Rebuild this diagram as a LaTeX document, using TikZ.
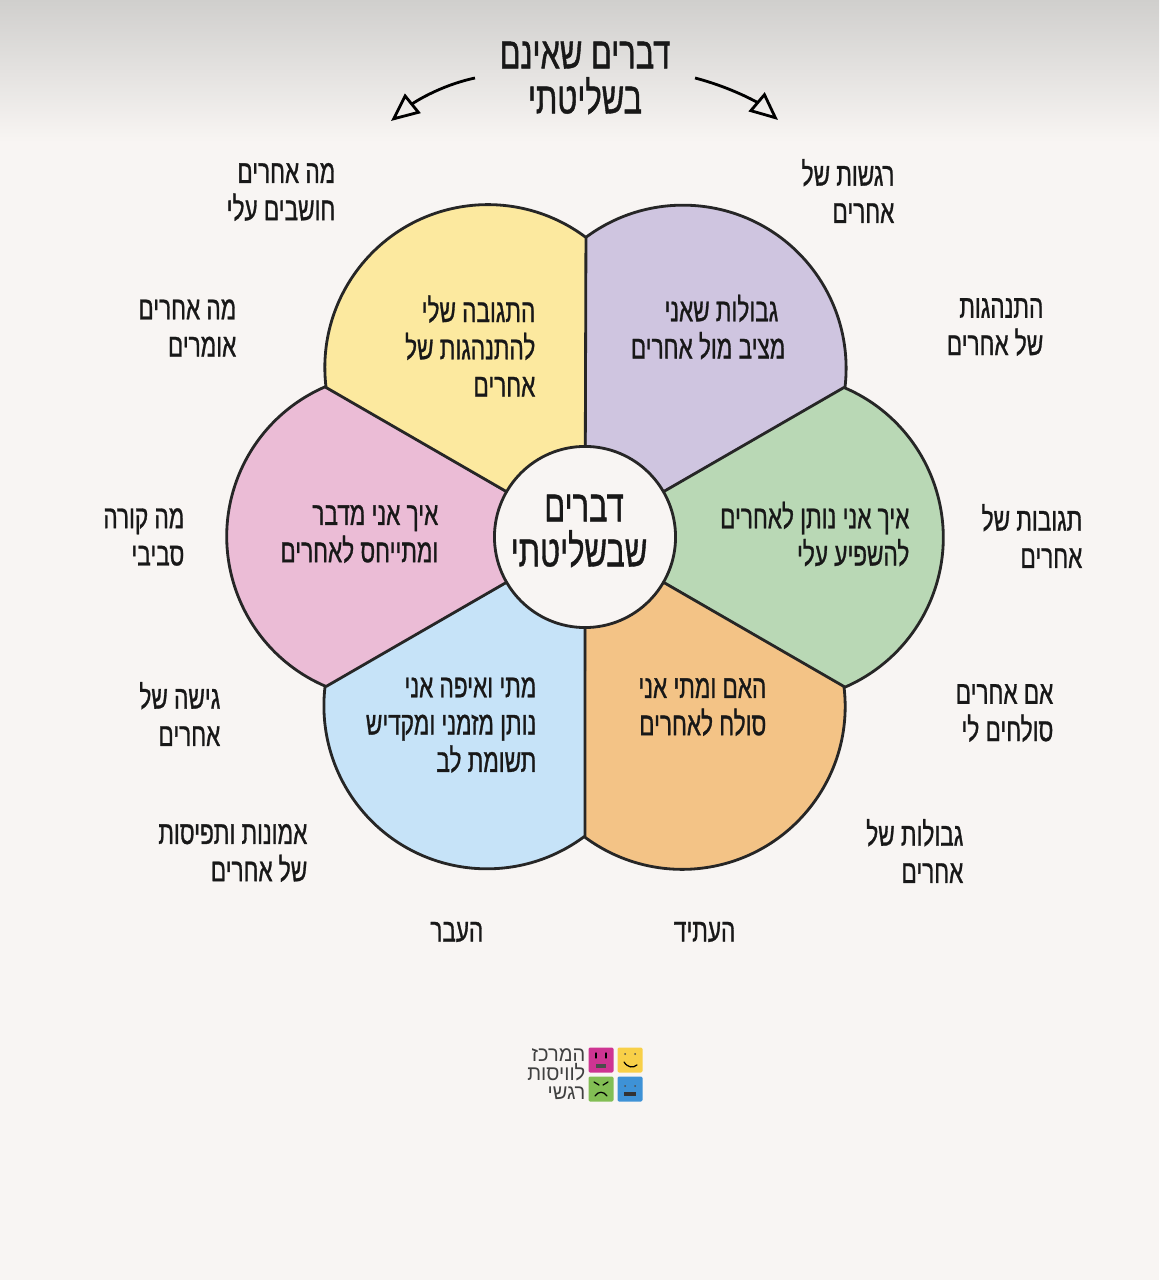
\documentclass[tikz,border=0pt]{standalone}
\usepackage{fontspec}
\usepackage{tikz}
\TeXXeTstate=1
\newfontfamily\hebfont[Script=Hebrew,FakeStretch=0.69,FakeBold=0.9]{Liberation Sans}
\newfontfamily\logofont[Script=Hebrew,FakeStretch=0.95]{Liberation Sans}
\newcommand{\heb}[1]{\beginR #1\endR}
\definecolor{paperbg}{RGB}{248, 245, 243}
\definecolor{papertop}{RGB}{208, 207, 205}
\definecolor{inktext}{RGB}{24, 24, 24}
\definecolor{petalpurple}{RGB}{207, 197, 224}
\definecolor{petalgreen}{RGB}{185, 216, 181}
\definecolor{petalorange}{RGB}{243, 195, 134}
\definecolor{petalblue}{RGB}{198, 227, 248}
\definecolor{petalpink}{RGB}{235, 188, 214}
\definecolor{petalyellow}{RGB}{252, 233, 159}
\definecolor{logoyellow}{RGB}{248, 208, 72}
\definecolor{logopink}{RGB}{206, 52, 146}
\definecolor{logogreen}{RGB}{130, 190, 84}
\definecolor{logoblue}{RGB}{62, 146, 214}
\tikzset{
  petal/.style={draw=black!85, line width=0.8pt, line join=round},
  outerlabel/.style={anchor=east, inner sep=0pt, align=right, text=inktext,
    font=\hebfont\fontsize{9.3}{10.6}\selectfont},
  petallabel/.style={outerlabel},
  biglabel/.style={align=center, inner ysep=0pt, inner xsep=0.24cm, text=inktext,
    font=\hebfont\fontsize{12.7}{12.8}\selectfont},
  logobox/.style={minimum size=0.25cm, inner sep=0pt, rounded corners=0.4pt},
  logoface/.style={line width=0.35pt, line cap=round},
  handarrow/.style={line width=0.8pt, -{Triangle[open,length=8pt,width=7pt]}}
}
\usetikzlibrary{arrows.meta}
\begin{document}
\begin{tikzpicture}[x=0.01cm, y=-0.01cm]
    \useasboundingbox (0,0) rectangle (1159,1280);
    % Sfondo
    \fill[paperbg] (0,0) rectangle (1159,1280);
    \shade[top color=papertop, bottom color=paperbg] (0,0) rectangle (1159,142);

    \coordinate (hub) at (585,537);

    % Petali
    \draw[petal, fill=petalpurple] (hub) -- ++(-90:299) arc[start angle=-127, end angle=7, radius=163] -- cycle;
    \draw[petal, fill=petalgreen] (hub) -- ++(-30:299) arc[start angle=-67, end angle=67, radius=163] -- cycle;
    \draw[petal, fill=petalorange] (hub) -- ++(30:299) arc[start angle=-7, end angle=127, radius=163] -- cycle;
    \draw[petal, fill=petalblue] (hub) -- ++(90:299) arc[start angle=53, end angle=187, radius=163] -- cycle;
    \draw[petal, fill=petalpink] (hub) -- ++(150:299) arc[start angle=113, end angle=247, radius=163] -- cycle;
    \draw[petal, fill=petalyellow] (hub) -- ++(210:299) arc[start angle=173, end angle=307, radius=163] -- cycle;

    % Centro
    \node[petal, circle, fill=paperbg, minimum size=1.81cm, inner sep=0pt] (centre) at (hub) {};
    \node[biglabel] (centretext) at (579,531) {\hspace*{0.1cm}\heb{דברים}\\\heb{שבשליטתי}};

    % Titolo e frecce
    \node[biglabel] (title) at (585,78) {\heb{דברים שאינם}\\\heb{בשליטתי}};
    \coordinate (lefttip) at (391,121);
    \coordinate (righttip) at (778,120);
    \draw[handarrow] (title.west) .. controls (438,86) and (412,104) .. (lefttip);
    \draw[handarrow] (title.east) .. controls (733,88) and (758,103) .. (righttip);

    % Testi dei petali
    \node[petallabel] (purpletext) at (786,327) {\heb{גבולות שאני}\hspace*{2pt}\\\heb{מציב מול אחרים}};
    \node[petallabel] (greentext) at (910,534) {\heb{איך אני נותן לאחרים}\\\heb{להשפיע עלי}};
    \node[petallabel] (orangetext) at (767,707) {\heb{האם ומתי אני}\\\heb{סולח לאחרים}};
    \node[petallabel] (bluetext) at (537,725) {\heb{מתי ואיפה אני}\\\heb{נותן מזמני ומקדיש}\\\heb{תשומת לב}};
    \node[petallabel] (pinktext) at (439,534) {\heb{איך אני מדבר}\\\heb{ומתייחס לאחרים}};
    \node[petallabel] (yellowtext) at (536,346) {\heb{התגובה שלי}\\\heb{להתנהגות של}\\\heb{אחרים}};

    % Testi esterni, destra
    \node[outerlabel] (feelings) at (895,191) {\heb{רגשות של}\\\heb{אחרים}};
    \node[outerlabel] (behaviour) at (1044,327) {\heb{התנהגות}\\\heb{של אחרים}};
    \node[outerlabel] (reactions) at (1083,536) {\heb{תגובות של}\\\heb{אחרים}};
    \node[outerlabel] (forgive) at (1054,713) {\heb{אם אחרים}\\\heb{סולחים לי}};
    \node[outerlabel] (limits) at (964,851) {\heb{גבולות של}\\\heb{אחרים}};
    \node[outerlabel] (future) at (736,932) {\heb{העתיד}};

    % Testi esterni, sinistra
    \node[outerlabel] (thinking) at (336,192) {\heb{מה אחרים}\\\heb{חושבים עלי}};
    \node[outerlabel] (saying) at (237,328) {\heb{מה אחרים}\\\heb{אומרים}};
    \node[outerlabel] (around) at (185,537) {\heb{מה קורה}\\\heb{סביבי}};
    \node[outerlabel] (attitude) at (221,714) {\heb{גישה של}\\\heb{אחרים}};
    \node[outerlabel] (beliefs) at (308,853) {\heb{אמונות ותפיסות}\\\heb{של אחרים}};
    \node[outerlabel] (past) at (484,932) {\heb{העבר}};

    % Logo
    \node[logobox, fill=logopink] (logoa) at (601,1060) {};
    \node[logobox, fill=logoyellow] (logob) at (630,1060) {};
    \node[logobox, fill=logogreen] (logoc) at (601,1089) {};
    \node[logobox, fill=logoblue] (logod) at (630,1089) {};
    \draw[logoface] (596,1053) -- (596,1058) (606,1053) -- (606,1058);
    \fill[black!70] (596,1064) rectangle (606,1068);
    \fill[black!70] (625,1054) circle (1) (635,1054) circle (1);
    \draw[logoface] (624,1062) .. controls (628,1068) and (633,1068) .. (637,1065);
    \draw[logoface] (594,1082) -- (599,1085) (608,1082) -- (603,1085);
    \draw[logoface] (595,1096) .. controls (598,1091) and (604,1091) .. (607,1096);
    \fill[black!70] (625,1086) circle (1) (635,1086) circle (1);
    \fill[black!80] (624,1092) rectangle (636,1096);
    \node[anchor=east, inner sep=0pt, align=right, text=black!75,
          font=\logofont\fontsize{6}{5.4}\selectfont] (logotext) at (586,1074)
          {\heb{המרכז}\\\heb{לוויסות}\\\heb{רגשי}};
\end{tikzpicture}
\end{document}
